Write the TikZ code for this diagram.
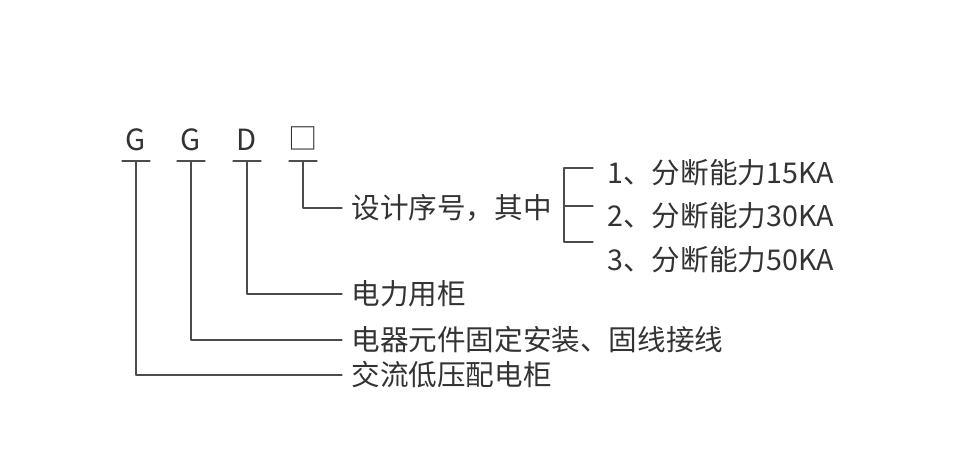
\documentclass[tikz,border=0pt]{standalone}
\usepackage{fontspec}
\setmainfont{Noto Sans CJK SC}
\usetikzlibrary{calc}

\begin{document}
\begin{tikzpicture}[x=0.5pt,y=-0.5pt,line cap=round,line join=round,
  lead/.style={line width=0.6pt,black!70},
  code/.style={inner sep=0pt,font=\fontsize{14.6}{16}\selectfont,text=black!80},
  note/.style={anchor=west,inner sep=0pt,font=\fontsize{14.3}{17}\selectfont,text=black!80}]
\useasboundingbox (0,0) rectangle (965,462);
% code letters
\node[code,anchor=base] (cG) at (136,150) {G};
\node[code,anchor=base] (cGG) at (191,150) {G};
\node[code,anchor=base] (cD) at (247,150) {D};
\node[code,anchor=base] (cBox) at (303,149) {□};
% meanings
\node[note] (tBox) at (351,208) {设计序号，其中};
\node[note] (tD) at (351,294) {电力用柜};
\node[note] (tGG) at (351,340) {电器元件固定安装、固线接线};
\node[note] (tG) at (351,375) {交流低压配电柜};
% sub items
\node[note] (s1) at (607,173) {1、分断能力15KA};
\node[note] (s2) at (607,216) {2、分断能力30KA};
\node[note] (s3) at (607,260) {3、分断能力50KA};
% underlines
\foreach \c in {cG,cGG,cD}
  \draw[lead] ($(\c.base)+(-14,11)$) -- ($(\c.base)+(14,11)$);
\draw[lead] ($(cBox.base)+(-14,12)$) -- ($(cBox.base)+(14,12)$);
% leaders
\draw[lead] ($(cBox.base)+(0,12)$) |- ([xshift=-4.5pt]tBox.west);
\draw[lead] ($(cD.base)+(0,11)$) |- ([xshift=-4.5pt]tD.west);
\draw[lead] ($(cGG.base)+(0,11)$) |- ([xshift=-4.5pt]tGG.west);
\draw[lead] ($(cG.base)+(0,11)$) |- ([xshift=-4.5pt]tG.west);
% bracket
\coordinate (b1) at (593,168);
\coordinate (b2) at (593,206);
\coordinate (b3) at (593,242);
\draw[lead] (b1) -- ++(-29,0) |- (b3);
\draw[lead] (b2) -- ++(-29,0);
\end{tikzpicture}
\end{document}
